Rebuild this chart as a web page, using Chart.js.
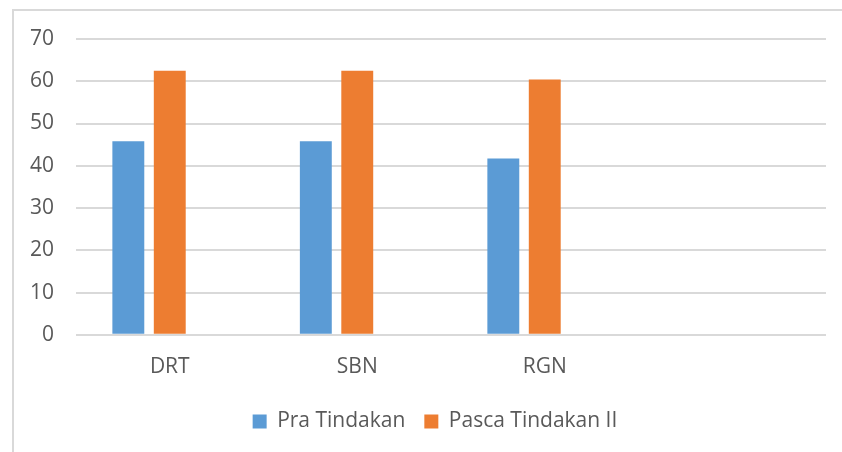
<!DOCTYPE html>
<html>
<head>
<meta charset="utf-8">
<script src="https://cdn.jsdelivr.net/npm/chart.js@4"></script>
<style>
  html, body { margin: 0; padding: 0; background: #fff; }
  #wrap { position: relative; width: 842px; height: 452px; }
  #frame {
    position: absolute; left: 12px; top: 9px; width: 900px; height: 500px;
    border-top: 2px solid #d9d9d9; border-left: 2px solid #d9d9d9;
  }
  canvas { position: absolute; left: 0; top: 0; }
</style>
</head>
<body>
<div id="wrap">
  <div id="frame"></div>
  <canvas id="grafico" width="842" height="452"></canvas>
</div>
<script>
const kategori = ["DRT", "SBN", "RGN", ""];
const praTindakan = [45.8, 45.8, 41.7, null];
const pascaTindakanII = [62.5, 62.5, 60.4, null];
const seriKosong = [null, null, null, null];
const tickY = [0, 10, 20, 30, 40, 50, 60, 70];

const teks = "#595959";
const fontUtama = { family: "'Open Sans', 'Noto Sans', sans-serif", size: 21 };

// geser legenda sedikit ke kanan seperti aslinya
const geserLegenda = {
  id: "geserLegenda",
  afterLayout(chart) {
    chart.legend.left += 18;
    chart.legend.right += 18;
  }
};

new Chart(document.getElementById("grafico"), {
  type: "bar",
  data: {
    labels: kategori,
    datasets: [
      { label: "Pra Tindakan", data: praTindakan, backgroundColor: "#5b9bd5" },
      { label: "Pasca Tindakan II", data: pascaTindakanII, backgroundColor: "#ed7d31" },
      { label: "", data: seriKosong, backgroundColor: "#a5a5a5" }
    ]
  },
  options: {
    responsive: false,
    animation: false,
    categoryPercentage: 0.663,
    barPercentage: 0.77,
    layout: { padding: { left: 8, right: 16, top: 39, bottom: 10 } },
    plugins: {
      tooltip: { enabled: false },
      legend: {
        position: "bottom",
        labels: {
          color: teks,
          font: fontUtama,
          boxWidth: 14,
          boxHeight: 14,
          padding: 19,
          filter: (item) => item.text !== ""
        }
      }
    },
    scales: {
      x: {
        grid: { display: false },
        border: { display: false },
        ticks: { color: teks, font: fontUtama, padding: 12 }
      },
      y: {
        min: 0,
        max: 70,
        afterBuildTicks: (axis) => { axis.ticks = tickY.map(v => ({ value: v })); },
        grid: { color: "#d9d9d9", lineWidth: 2, drawTicks: false },
        border: { display: false },
        ticks: { color: teks, font: fontUtama, padding: 22 }
      }
    }
  },
  plugins: [geserLegenda]
});
</script>
</body>
</html>
